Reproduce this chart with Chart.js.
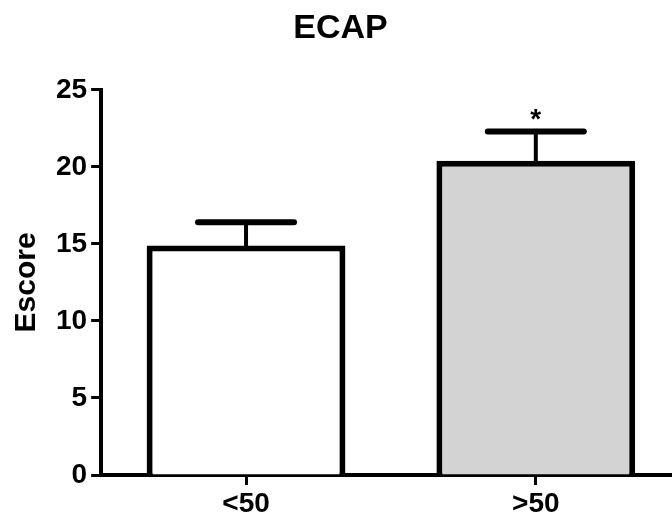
<!DOCTYPE html>
<html>
<head>
<meta charset="utf-8">
<script src="https://cdn.jsdelivr.net/npm/chart.js@4/dist/chart.umd.min.js"></script>
<style>
  html, body { margin: 0; padding: 0; background: #fff; overflow: hidden; }
</style>
</head>
<body>
<canvas id="chart" width="672" height="518"></canvas>
<script>
// Data //
var categories = ['<50', '>50'];
var means = [14.9, 20.4];
var errors = [1.5, 1.9];
var marks = ['', '*'];
var yTicks = [0, 5, 10, 15, 20, 25];

var FONT = '"Liberation Sans", Arial, sans-serif';

// error bars + significance star //
var errorBars = {
    id: 'errorBars',
    afterDatasetsDraw: function(chart) {
        var ctx = chart.ctx;
        var x = chart.scales.x, y = chart.scales.y;
        ctx.save();
        ctx.strokeStyle = '#000';
        ctx.lineCap = 'round';
        for (var i = 0; i < means.length; i++) {
            var px = x.getPixelForValue(i);
            var top = y.getPixelForValue(means[i] + errors[i]);
            var base = y.getPixelForValue(means[i]);
            ctx.lineWidth = 4;
            ctx.beginPath();
            ctx.moveTo(px, base);
            ctx.lineTo(px, top);
            ctx.stroke();
            ctx.lineWidth = 6;
            ctx.beginPath();
            ctx.moveTo(px - 48, top);
            ctx.lineTo(px + 48, top);
            ctx.stroke();
            if (marks[i]) {
                ctx.fillStyle = '#000';
                ctx.font = 'bold 28px ' + FONT;
                ctx.textAlign = 'center';
                ctx.textBaseline = 'alphabetic';
                ctx.fillText(marks[i], px, top - 3);
            }
        }
        ctx.restore();
    }
};

var ctx = document.getElementById('chart').getContext('2d');
var chart = new Chart(ctx, {
    type: 'bar',
    data: {
        datasets: [{
            data: means.map(function(v, i) { return { x: i, y: v }; }),
            backgroundColor: ['#ffffff', '#d3d3d3'],
            borderColor: '#000',
            borderWidth: 6,
            barPercentage: 0.686,
            categoryPercentage: 1
        }]
    },
    options: {
        responsive: false,
        animation: false,
        layout: { padding: { top: 6, left: 9, right: 0, bottom: 0 } },
        plugins: {
            legend: { display: false },
            tooltip: { enabled: false },
            title: {
                display: true,
                text: 'ECAP',
                color: '#000',
                font: { family: FONT, size: 34, weight: 'bold' },
                padding: { top: 2, bottom: 41 }
            }
        },
        scales: {
            x: {
                type: 'linear',
                min: -0.5,
                max: 1.47,
                offset: false,
                afterBuildTicks: function(scale) {
                    scale.ticks = categories.map(function(c, i) { return { value: i }; });
                },
                afterFit: function(scale) {
                    scale.height = 43;
                },
                ticks: {
                    color: '#000',
                    font: { family: FONT, size: 28, weight: 'bold' },
                    padding: 2,
                    autoSkip: false,
                    maxRotation: 0,
                    callback: function(v) { return categories[v]; }
                },
                grid: { offset: false, drawOnChartArea: false, drawTicks: true, tickLength: 10, tickWidth: 3, tickColor: '#000' },
                border: { color: '#000', width: 4 }
            },
            y: {
                min: 0,
                max: 25,
                afterBuildTicks: function(scale) {
                    scale.ticks = yTicks.map(function(v) { return { value: v }; });
                },
                ticks: {
                    color: '#000',
                    font: { family: FONT, size: 28, weight: 'bold' },
                    padding: 4
                },
                grid: { drawOnChartArea: false, drawTicks: true, tickLength: 10, tickWidth: 3, tickColor: '#000' },
                border: { color: '#000', width: 4 },
                title: {
                    display: true,
                    text: 'Escore',
                    color: '#000',
                    font: { family: FONT, size: 30, weight: 'bold' },
                    padding: { top: 0, bottom: 7 }
                }
            }
        }
    },
    plugins: [errorBars]
});
</script>
</body>
</html>
